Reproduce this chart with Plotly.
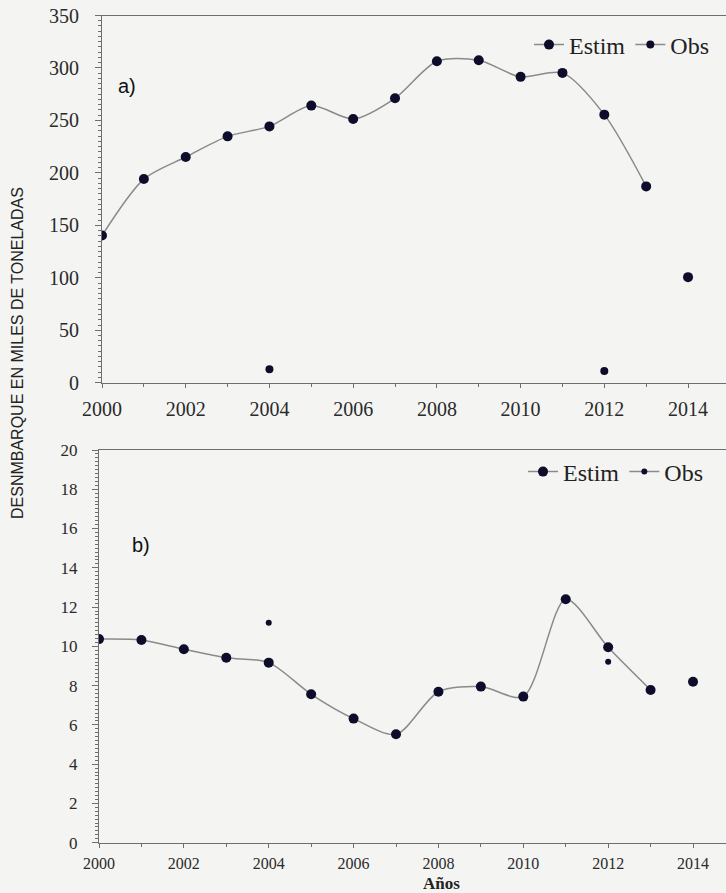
import plotly.graph_objects as go

# ---------------- data ----------------
years = list(range(2000, 2015))
years_est = list(range(2000, 2014))
estim_a = [140.3, 194.1, 215.1, 234.8, 244.3, 264.1, 251.4, 271.1, 306.4, 307.3, 291.5, 295.3, 255.5, 187.1]
estim_b = [10.37, 10.32, 9.85, 9.42, 9.17, 7.56, 6.32, 5.52, 7.69, 7.95, 7.44, 12.40, 9.95, 7.78]

year_fc = [2014]
fc_a = [100.6]
fc_b = [8.20]

# observed values (only a few years available)
obs_a = [None, None, None, None, 12.8, None, None, None, None, None, None, None, 11.2, None, None]
obs_b = [None, None, None, None, 11.2, None, None, None, None, None, None, None, 9.22, None, None]

x_ticks = [2000, 2002, 2004, 2006, 2008, 2010, 2012, 2014]
ya_ticks = [0, 50, 100, 150, 200, 250, 300, 350]
yb_ticks = [0, 2, 4, 6, 8, 10, 12, 14, 16, 18, 20]

# ---------------- style ----------------
BG = "#f4f4f2"
MK = "#0d0d2b"
LN = "#8a8a8a"
AX = "#6e6e6e"
SERIF = "Liberation Serif"
SANS = "Liberation Sans"

W, H = 726, 893

fig = go.Figure()

# panel a
fig.add_trace(go.Scatter(x=years_est, y=estim_a, mode="lines+markers", name="Estim",
                         line=dict(color=LN, width=1.5, shape="spline", smoothing=0.8),
                         marker=dict(color=MK, size=10), xaxis="x", yaxis="y", legend="legend"))
fig.add_trace(go.Scatter(x=years, y=obs_a, mode="lines+markers", name="Obs", connectgaps=False,
                         line=dict(color=LN, width=1.5),
                         marker=dict(color=MK, size=8), xaxis="x", yaxis="y", legend="legend"))
fig.add_trace(go.Scatter(x=year_fc, y=fc_a, mode="markers", showlegend=False,
                         marker=dict(color=MK, size=10), xaxis="x", yaxis="y"))

# panel b
fig.add_trace(go.Scatter(x=years_est, y=estim_b, mode="lines+markers", name="Estim",
                         line=dict(color=LN, width=1.5, shape="spline", smoothing=0.8),
                         marker=dict(color=MK, size=10), xaxis="x2", yaxis="y2", legend="legend2"))
fig.add_trace(go.Scatter(x=years, y=obs_b, mode="lines+markers", name="Obs", connectgaps=False,
                         line=dict(color=LN, width=1.5),
                         marker=dict(color=MK, size=6), xaxis="x2", yaxis="y2", legend="legend2"))
fig.add_trace(go.Scatter(x=year_fc, y=fc_b, mode="markers", showlegend=False,
                         marker=dict(color=MK, size=10), xaxis="x2", yaxis="y2"))

def xax(domain, rng, fsize, anchor, standoff):
    return dict(domain=domain, range=rng, anchor=anchor, tickvals=x_ticks, automargin=False,
                showgrid=False, zeroline=False, showline=True, linecolor=AX, linewidth=1.2,
                mirror=True, ticks="outside", ticklen=4, tickcolor=AX,
                minor=dict(dtick=1, ticks="outside", ticklen=3, tickcolor=AX, showgrid=False),
                tickfont=dict(family=SERIF, size=fsize, color="#2a2a2a"),
                ticklabelstandoff=standoff)

def yax(domain, rng, ticks, minor_dtick, fsize, anchor, standoff):
    return dict(domain=domain, range=rng, anchor=anchor, tickvals=ticks, automargin=False,
                showgrid=False, zeroline=False, showline=True, linecolor=AX, linewidth=1.2,
                ticks="outside", ticklen=6, tickcolor=AX,
                minor=dict(dtick=minor_dtick, ticks="outside", ticklen=3, tickcolor=AX, showgrid=False),
                tickfont=dict(family=SERIF, size=fsize, color="#2a2a2a"),
                ticklabelstandoff=standoff)

top_y = [1 - 382.7 / H, 1 - 15.5 / H]
bot_y = [1 - 842.7 / H, 1 - 450 / H]

fig.update_layout(
    width=W, height=H,
    margin=dict(l=0, r=0, t=0, b=0, autoexpand=False),
    paper_bgcolor=BG, plot_bgcolor=BG,
    xaxis=xax([102 / W, 1], [2000, 2000 + (W - 102) / 41.86], 20, "y", 4),
    yaxis=yax(top_y, [0, 350], ya_ticks, 5, 20, "x", 12),
    xaxis2=xax([99 / W, 1], [2000, 2000 + (W - 99) / 42.43], 16, "y2", 2),
    yaxis2=yax(bot_y, [0, 20], yb_ticks, 0.2, 17, "x2", 11),
    legend=dict(x=715 / W, xanchor="right", y=1 - 45 / H, yanchor="middle",
                orientation="h", bgcolor="rgba(0,0,0,0)",
                font=dict(family=SERIF, size=24, color="#222222"),
                itemwidth=30, tracegroupgap=0),
    legend2=dict(x=709 / W, xanchor="right", y=1 - 472 / H, yanchor="middle",
                 orientation="h", bgcolor="rgba(0,0,0,0)",
                 font=dict(family=SERIF, size=24, color="#222222"),
                 itemwidth=30, tracegroupgap=0),
    showlegend=True,
    annotations=[
        dict(text="a)", x=2000.6, y=283, xref="x", yref="y", showarrow=False,
             font=dict(family=SANS, size=20, color="#111111")),
        dict(text="b)", x=2001.0, y=15.16, xref="x2", yref="y2", showarrow=False,
             font=dict(family=SANS, size=20, color="#111111")),
        dict(text="<b>Años</b>", x=441 / W, y=1 - 883 / H, xref="paper", yref="paper",
             xanchor="center", yanchor="middle",
             showarrow=False, font=dict(family=SERIF, size=17, color="#222222")),
        dict(text="DESNMBARQUE EN MILES DE TONELADAS", x=17 / W, y=1 - 353 / H,
             xref="paper", yref="paper", xanchor="center", yanchor="middle",
             textangle=-90, showarrow=False,
             font=dict(family=SANS, size=16, color="#222222")),
    ],
)

fig.write_html("out.html", config={"displayModeBar": False},
               post_script="document.body.style.margin='0';document.body.style.background='#f4f4f2';")
